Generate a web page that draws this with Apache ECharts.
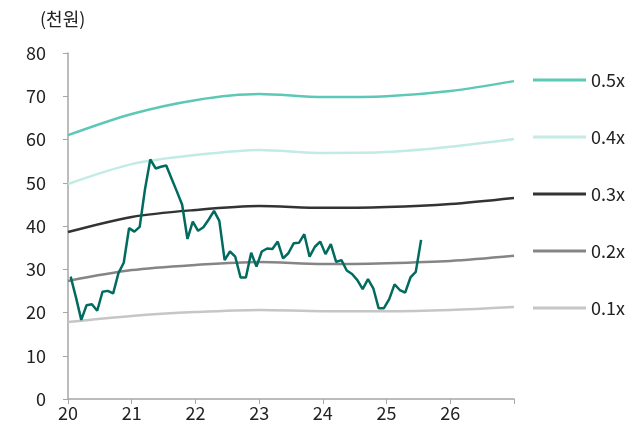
<!DOCTYPE html>
<html>
<head>
<meta charset="utf-8">
<script src="https://cdn.jsdelivr.net/npm/echarts@6/dist/echarts.min.js"></script>
<style>
  html, body { margin: 0; padding: 0; background: #fff; }
  #chart { width: 632px; height: 425px; }
</style>
</head>
<body>
<div id="chart"></div>
<script>
// PBR band years (x axis in 2-digit years)
const bandYears = [20, 21, 22, 23, 24, 25, 26, 27];
const band05 = [61.0, 65.9, 69.1, 70.5, 69.8, 70.0, 71.2, 73.5];
const band04 = [49.7, 54.3, 56.4, 57.6, 56.9, 57.1, 58.3, 60.1];
const band03 = [38.6, 42.1, 43.7, 44.6, 44.2, 44.4, 45.1, 46.5];
const band02 = [27.3, 29.8, 31.0, 31.7, 31.2, 31.4, 31.9, 33.1];
const band01 = [17.8, 19.2, 20.1, 20.6, 20.3, 20.3, 20.6, 21.3];

// monthly share price (천원), from Jan 2020
const priceStart = 20;
const price = [
  28.3, 23.5, 18.3, 21.7, 21.9, 20.4, 24.8, 25.0, 24.4, 29.1, 31.5, 39.5,
  38.7, 39.8, 48.5, 55.4, 53.3, 53.7, 54.0, 51.0, 48.0, 44.9, 37.0, 41.0,
  38.9, 39.7, 41.5, 43.5, 41.2, 32.1, 34.1, 32.9, 28.1, 28.1, 33.8, 30.6,
  34.1, 34.8, 34.7, 36.4, 32.5, 33.7, 36.0, 36.1, 38.1, 32.9, 35.2, 36.4,
  33.5, 35.8, 31.7, 32.1, 29.7, 28.9, 27.5, 25.4, 27.7, 25.6, 21.0, 21.0,
  23.1, 26.5, 25.2, 24.6, 28.1, 29.4, 36.8
];

const bandNames = ['0.5x', '0.4x', '0.3x', '0.2x', '0.1x'];
const bandData = [band05, band04, band03, band02, band01];
const bandColors = ['#5ec8b6', '#c2ebe3', '#333333', '#858585', '#c6c6c6'];
const legendTops = [66, 123, 180, 237, 294];

const FONT = '"Noto Sans CJK KR", "Noto Sans", sans-serif';

const chart = echarts.init(document.getElementById('chart'));

const series = bandNames.map((name, i) => ({
  name: name,
  type: 'line',
  data: bandYears.map((y, j) => [y, bandData[i][j]]),
  symbol: 'none',
  smooth: 0.3,
  lineStyle: { color: bandColors[i], width: 2.5 },
  itemStyle: { color: bandColors[i] },
  z: 2
}));

series.push({
  name: 'price',
  type: 'line',
  data: price.map((v, i) => [priceStart + (i + 0.5) / 12, v]),
  symbol: 'none',
  lineStyle: { color: '#006b5e', width: 2.5 },
  z: 3
});

const legends = bandNames.map((name, i) => ({
  data: [name],
  left: 528,
  top: legendTops[i],
  icon: 'rect',
  itemWidth: 53,
  itemHeight: 3,
  itemGap: 0,
  textStyle: { fontFamily: FONT, fontSize: 18, color: '#222' },
  selectedMode: false
}));

chart.setOption({
  animation: false,
  backgroundColor: '#fff',
  legend: legends,
  grid: { left: 68, right: 118, top: 53, bottom: 26 },
  graphic: [{
    type: 'text',
    left: 40,
    top: 10,
    style: { text: '(천원)', font: '18px ' + FONT, fill: '#222' }
  }],
  xAxis: {
    type: 'value',
    min: 20,
    max: 27,
    interval: 1,
    axisLine: { lineStyle: { color: '#a6a6a6', width: 1.5 } },
    axisTick: { show: true, length: 5, lineStyle: { color: '#a6a6a6' } },
    splitLine: { show: false },
    axisLabel: {
      fontFamily: FONT, fontSize: 18, color: '#222', margin: 5,
      formatter: v => (v === 27 ? '' : String(v))
    }
  },
  yAxis: {
    type: 'value',
    min: 0,
    max: 80,
    interval: 10,
    axisLine: { show: true, lineStyle: { color: '#a6a6a6', width: 1.5 } },
    axisTick: { show: true, length: 5, lineStyle: { color: '#a6a6a6' } },
    splitLine: { show: false },
    axisLabel: { fontFamily: FONT, fontSize: 18, color: '#222', margin: 22 }
  },
  series: series
});
</script>
</body>
</html>
